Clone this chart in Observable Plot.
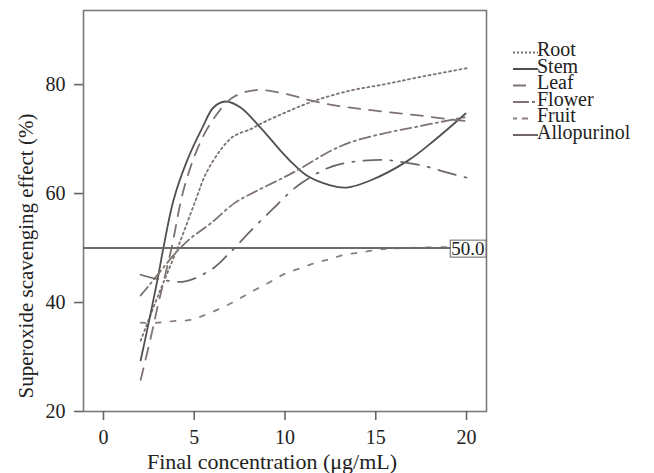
<!DOCTYPE html>
<html><head><meta charset="utf-8">
<script src="https://cdn.jsdelivr.net/npm/d3@7"></script>
<script src="https://cdn.jsdelivr.net/npm/@observablehq/plot@0.6"></script>
<style>
body{margin:0;background:#fff}
#chart{width:654px;height:473px}
</style>
</head><body><div id="chart"></div>
<script>
// ---- data ----
const seriesNames = ["Root", "Stem", "Leaf", "Flower", "Fruit", "Allopurinol"];

const rootX = [2.05, 3.0, 4.08, 5.07, 5.62, 6.45, 7.16, 8.1, 8.65, 10.1, 11.6, 13.6, 15.4, 17.3, 20.0];
const rootY = [33, 41.2, 50, 58.7, 63.5, 68.0, 70.5, 71.8, 72.8, 75.0, 77.0, 78.9, 80.0, 81.3, 83.0];

const stemX = [2.05, 2.6, 3.0, 3.3, 3.85, 4.6, 5.45, 6.06, 6.72, 7.55, 8.65, 9.75, 10.5, 11.2, 12.5, 13.4, 14.7, 16.75, 18.2, 19.95];
const stemY = [29.4, 38, 44.6, 50, 58.7, 66, 72.1, 75.8, 76.9, 75.8, 72.1, 67.9, 65.3, 63.3, 61.5, 61.1, 62.4, 66, 69.7, 74.7];

const leafX = [2.05, 2.6, 3.0, 3.75, 4.4, 5.2, 6.0, 7.1, 8.4, 9.9, 11.4, 12.9, 14.3, 15.8, 17.5, 19.1, 20.0];
const leafY = [25.8, 33.5, 39.5, 50, 60.5, 68.4, 73.4, 77.6, 79.0, 78.4, 77.1, 76.1, 75.5, 74.9, 74.3, 73.6, 73.3];

const flowerX = [2.05, 2.5, 3.2, 4.0, 4.8, 5.9, 7.2, 8.5, 9.9, 10.85, 12.5, 13.6, 15.4, 17.3, 19.9];
const flowerY = [41.3, 43.1, 46, 49.2, 51.8, 54.5, 58.2, 60.6, 62.9, 64.6, 67.8, 69.4, 71, 72.3, 74.0];

const fruitX = [2.05, 3.0, 3.86, 4.8, 5.5, 6.3, 7.1, 7.8, 8.5, 9.3, 10.0, 10.85, 11.7, 12.5, 13.3, 14.2, 15.1, 15.9, 17.5, 20.0];
const fruitY = [36.3, 36.3, 36.6, 36.8, 37.6, 38.7, 40, 41.3, 42.6, 44, 45.3, 46.3, 47.3, 48, 48.8, 49.2, 49.7, 49.9, 50.1, 50.2];

const alloX = [2.05, 3.0, 4.5, 6.0, 6.8, 7.2, 8.0, 9.4, 10.0, 10.85, 12.3, 13.3, 15.3, 16.25, 17.6, 19.0, 20.05];
const alloY = [45.1, 44.3, 43.9, 46.2, 48.6, 49.9, 52.8, 57.4, 59.4, 61.8, 64.6, 65.6, 66.2, 65.9, 65.1, 63.8, 62.9];

const xTicks = [0, 5, 10, 15, 20];
const yTicks = [20, 40, 60, 80];
const refValue = 50;
const refLabel = "50.0";
const xTitle = "Final concentration (μg/mL)";
const yTitle = "Superoxide scavenging effect (%)";

// ---- build ----
const allX = [rootX, stemX, leafX, flowerX, fruitX, alloX];
const allY = [rootY, stemY, leafY, flowerY, fruitY, alloY];
const seriesXY = allX.map((xs, i) =>
  xs.map((x, j) => ({series: seriesNames[i], x, y: allY[i][j]})));

const styles = {
  Root:        {stroke: "#7d7370", dash: "2,3.2", legendDash: "2,2"},
  Stem:        {stroke: "#505050", dash: null,    legendDash: null},
  Leaf:        {stroke: "#7d7370", dash: "12,9",  legendDash: "13,20"},
  Flower:      {stroke: "#7d7370", dash: "11,4,2,4", legendDash: "16,3,3,10"},
  Fruit:       {stroke: "#8a807c", dash: "5,10",  legendDash: "4,5,6,20"},
  Allopurinol: {stroke: "#6f6764", dash: "18,9,2,9", legendDash: null}
};

const FONT = "Liberation Serif, Times New Roman, serif";

const marks = [
  Plot.frame({stroke: "#7a7a7a", strokeWidth: 1.6}),
  ...seriesXY.map(rows => {
    const s = styles[rows[0].series];
    return Plot.line(rows, {x: "x", y: "y", stroke: s.stroke, strokeWidth: 1.8,
      strokeDasharray: s.dash || undefined, curve: "catmull-rom"});
  }),
  Plot.ruleY([refValue], {stroke: "#6a6a6a", strokeWidth: 2}),
  Plot.text([{v: refValue, label: refLabel}], {y: "v", text: "label", frameAnchor: "right",
    textAnchor: "end", dx: -2, dy: 1, fontSize: 19, fill: "#222", fontFamily: FONT}),
  Plot.axisX({ticks: xTicks, tickSize: 9, tickPadding: 9, stroke: "#666", strokeWidth: 1.6,
    fill: "#222", fontSize: 20, label: null, tickFormat: d => String(d)}),
  Plot.axisY({ticks: yTicks, tickSize: 9, tickPadding: 9, stroke: "#666", strokeWidth: 1.6,
    fill: "#222", fontSize: 20, label: null, tickFormat: d => String(d)})
];

const plot = Plot.plot({
  width: 654,
  height: 473,
  marginLeft: 83,
  marginRight: 168,
  marginTop: 10,
  marginBottom: 62,
  style: {fontFamily: FONT, background: "#fff", overflow: "visible"},
  x: {domain: [-1.1, 21.1]},
  y: {domain: [20, 93.6]},
  marks
});
document.getElementById("chart").appendChild(plot);

const svg = d3.select(plot);
const svgBox = plot.getBoundingClientRect();

// box behind the 50.0 label
svg.selectAll("text").filter(function() { return this.textContent === refLabel; }).each(function() {
  const bb = this.getBoundingClientRect();
  const g = this.closest("g");
  const x0 = bb.left - svgBox.left - 1;
  const y0 = bb.top - svgBox.top + 2;
  const rect = document.createElementNS("http://www.w3.org/2000/svg", "rect");
  rect.setAttribute("x", x0);
  rect.setAttribute("y", y0);
  rect.setAttribute("width", 486 - x0);
  rect.setAttribute("height", bb.height - 4);
  rect.setAttribute("fill", "#fff");
  rect.setAttribute("stroke", "#666");
  rect.setAttribute("stroke-width", "1");
  g.parentNode.insertBefore(rect, g);
});

// axis titles
svg.append("text")
  .attr("x", 272).attr("y", 469)
  .attr("text-anchor", "middle")
  .attr("font-family", FONT).attr("font-size", 22).attr("fill", "#222")
  .text(xTitle);
svg.append("text")
  .attr("transform", "translate(33,256) rotate(-90)")
  .attr("text-anchor", "middle")
  .attr("font-family", FONT).attr("font-size", 21).attr("fill", "#222")
  .text(yTitle);

// legend
const lg = svg.append("g").attr("text-anchor", "start");
seriesNames.forEach((name, i) => {
  const by = 56 + i * 16.5;
  const s = styles[name];
  lg.append("line")
    .attr("x1", 513).attr("x2", 538).attr("y1", by - 3.5).attr("y2", by - 3.5)
    .attr("stroke", s.stroke).attr("stroke-width", 2)
    .attr("stroke-dasharray", s.legendDash);
  lg.append("text")
    .attr("x", 537).attr("y", by)
    .attr("text-anchor", "start")
    .attr("font-family", FONT).attr("font-size", 20).attr("fill", "#222")
    .text(name);
});
</script>
</body></html>
